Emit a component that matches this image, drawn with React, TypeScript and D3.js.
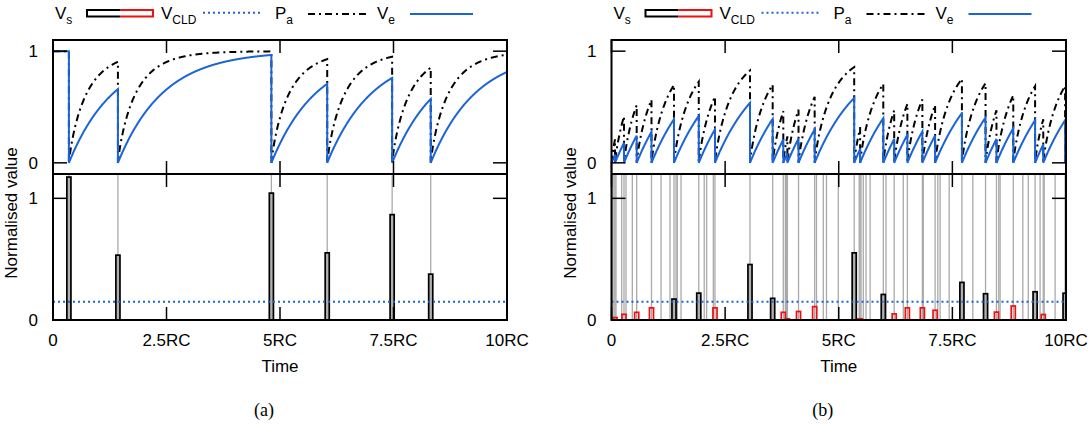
import React from 'react';
import * as d3 from 'd3';

// ---------- shared axis data ----------
const xTickValues = [0, 2.5, 5, 7.5, 10];
const xTickLabels = ['0', '2.5RC', '5RC', '7.5RC', '10RC'];
const yTickValues = [0, 1];
const yTickLabels = ['0', '1'];
const vcldLevel = 0.15;

// ---------- (a) ----------
const aStartCharged = true;
const aDischargeTimes = [0.35, 1.43, 4.81, 6.04, 7.47, 8.32];
const aVsTimes = [0.35, 1.43, 4.81, 6.04, 7.47, 8.32];
const aVsHeights = [1.175, 0.533, 1.043, 0.552, 0.866, 0.377];
const aCldTimes: number[] = [];
const aCldHeights: number[] = [];
const aGrayTimes = [0.35, 1.43, 4.81, 6.04, 7.47, 8.32];

// ---------- (b) ----------
const bStartCharged = false;
const bDischargeTimes = [0.077, 0.275, 0.554, 0.88, 1.375, 1.92, 2.277, 3.047, 3.546, 3.78, 3.87, 4.115, 4.47,
  5.34, 5.47, 5.98, 6.22, 6.51, 6.84, 7.12, 7.71, 8.23, 8.47, 8.84, 9.32, 9.5, 9.98];
const bVsTimes = [1.375, 1.92, 3.047, 3.546, 5.34, 5.98, 7.71, 8.23, 9.32, 9.98];
const bVsHeights = [0.172, 0.221, 0.456, 0.178, 0.552, 0.21, 0.309, 0.216, 0.232, 0.22];
const bCldTimes = [0.077, 0.275, 0.554, 0.88, 2.277, 3.78, 3.87, 4.115, 4.47, 5.47, 6.22, 6.51, 6.84, 7.12, 8.47, 8.84, 9.5];
const bCldHeights = [0.02, 0.047, 0.063, 0.1, 0.1, 0.063, 0.01, 0.07, 0.11, 0.01, 0.05, 0.1, 0.1, 0.08, 0.065, 0.115, 0.045];
const bGrayTimes = [0.026, 0.055, 0.077, 0.099, 0.224, 0.275, 0.319, 0.458, 0.554, 0.88, 1.09, 1.287, 1.375, 1.42, 1.448,
  1.53, 1.92, 2.04, 2.093, 2.24, 2.277, 3.047, 3.546, 3.78, 3.825, 3.85, 3.87, 4.115, 4.47, 4.51, 4.66, 4.73, 4.99,
  5.34, 5.45, 5.47, 5.49, 5.54, 5.6, 5.69, 5.98, 6.04, 6.22, 6.42, 6.51, 6.84, 6.86, 7.12, 7.18, 7.23, 7.43, 7.71,
  7.95, 8.23, 8.47, 8.52, 8.55, 8.84, 9.05, 9.17, 9.32, 9.43, 9.5, 9.52, 9.76, 9.98];

// RC charging model (time in units of RC)
const veCharge = (dt: number) => 1 - Math.exp(-dt);
const paCharge = (dt: number) => 1 - Math.exp(-2.2 * Math.pow(dt, 0.87));

const BLUE = '#1a64d8';
const RED = '#ee1111';
const GRAY = '#aaaaaa';
const FONT = '"Liberation Sans", Arial, sans-serif';

function buildSeries(startCharged: boolean, events: number[], f: (dt: number) => number): [number, number][] {
  const pts: [number, number][] = [];
  const bounds = [0, ...events, 10];
  for (let i = 0; i < bounds.length - 1; i++) {
    const t0 = bounds[i];
    const t1 = bounds[i + 1];
    const flat = i === 0 && startCharged;
    const val = (t: number) => (flat ? 1 : f(t - t0));
    if (i > 0) pts.push([t0, 0]);
    for (let t = t0; t < t1; t += 0.005) pts.push([t, val(t)]);
    pts.push([t1, val(t1)]);
  }
  return pts;
}

const TOP = 40, MID = 174, BOT = 320;

type PanelProps = {
  id: string; x0: number; x1: number; caption: string;
  startCharged: boolean; events: number[]; vsT: number[]; vsH: number[];
  cldT: number[]; cldH: number[]; grayT: number[];
};

function Panel(p: PanelProps) {
  const x = d3.scaleLinear().domain([0, 10]).range([p.x0, p.x1]);
  const yT = d3.scaleLinear().domain([-0.1, 1.1]).range([MID, TOP]);
  const yB = d3.scaleLinear().domain([0, 1.2]).range([BOT, MID]);
  const line = d3.line<[number, number]>().x(d => x(d[0])).y(d => yT(d[1]));
  const ve = buildSeries(p.startCharged, p.events, veCharge);
  const pa = buildSeries(p.startCharged, p.events, paCharge);
  const barW = x(0.09) - x(0);
  const xt = 13, yt = 14;
  const lx = p.x0;
  return (
    <g>
      <defs>
        <clipPath id={`top-${p.id}`}><rect x={p.x0} y={TOP} width={p.x1 - p.x0} height={MID - TOP} /></clipPath>
        <clipPath id={`bot-${p.id}`}><rect x={p.x0} y={MID} width={p.x1 - p.x0} height={BOT - MID} /></clipPath>
      </defs>
      {/* top panel curves */}
      <g clipPath={`url(#top-${p.id})`}>
        <path d={line(pa) || ''} fill="none" stroke="#000" strokeWidth={2} strokeDasharray="7,4,2,4" />
        <path d={line(ve) || ''} fill="none" stroke={BLUE} strokeWidth={2} />
      </g>
      {/* bottom panel */}
      <g clipPath={`url(#bot-${p.id})`}>
        {p.grayT.map((t, i) => (
          <line key={'g' + i} x1={x(t)} x2={x(t)} y1={yB(0)} y2={MID} stroke={GRAY} strokeWidth={1.3} />
        ))}
        {p.vsT.map((t, i) => (
          <rect key={'v' + i} x={x(t) - barW / 2} y={yB(p.vsH[i])} width={barW} height={yB(0) - yB(p.vsH[i])}
            fill="#b0b0b0" stroke="#000" strokeWidth={1.7} />
        ))}
        {p.cldT.map((t, i) => (
          <rect key={'c' + i} x={x(t) - barW / 2} y={yB(p.cldH[i])} width={barW} height={yB(0) - yB(p.cldH[i])}
            fill="none" stroke={RED} strokeWidth={1.7} />
        ))}
        <line x1={p.x0} x2={p.x1} y1={yB(vcldLevel)} y2={yB(vcldLevel)} stroke={BLUE} strokeWidth={2} strokeDasharray="2,3" />
      </g>
      {/* ticks */}
      {xTickValues.map((v, i) => (
        <g key={'xt' + i} stroke="#000" strokeWidth={1.5}>
          <line x1={x(v)} x2={x(v)} y1={TOP} y2={TOP + xt} />
          <line x1={x(v)} x2={x(v)} y1={MID} y2={MID - xt} />
          <line x1={x(v)} x2={x(v)} y1={MID} y2={MID + xt} />
          <line x1={x(v)} x2={x(v)} y1={BOT} y2={BOT - xt} />
        </g>
      ))}
      {yTickValues.map((v, i) => (
        <g key={'yt' + i} stroke="#000" strokeWidth={1.5}>
          <line x1={p.x0} x2={p.x0 + yt} y1={yT(v)} y2={yT(v)} />
          <line x1={p.x1} x2={p.x1 - yt} y1={yT(v)} y2={yT(v)} />
          <line x1={p.x0} x2={p.x0 + yt} y1={yB(v)} y2={yB(v)} />
          <line x1={p.x1} x2={p.x1 - yt} y1={yB(v)} y2={yB(v)} />
        </g>
      ))}
      {/* frame */}
      <rect x={p.x0} y={TOP} width={p.x1 - p.x0} height={BOT - TOP} fill="none" stroke="#000" strokeWidth={2} />
      <line x1={p.x0} x2={p.x1} y1={MID} y2={MID} stroke="#000" strokeWidth={2} />
      {/* tick labels */}
      <g fontFamily={FONT} fontSize={17} fill="#000">
        {xTickValues.map((v, i) => (
          <text key={'xl' + i} x={x(v)} y={346} textAnchor="middle">{xTickLabels[i]}</text>
        ))}
        {yTickValues.map((v, i) => (
          <text key={'yl1' + i} x={p.x0 - 15} y={yT(v) + 6} textAnchor="end">{yTickLabels[i]}</text>
        ))}
        {yTickValues.map((v, i) => (
          <text key={'yl2' + i} x={p.x0 - 15} y={yB(v) + 6} textAnchor="end">{yTickLabels[i]}</text>
        ))}
        <text x={(p.x0 + p.x1) / 2} y={372} textAnchor="middle">Time</text>
        <text x={p.x0 - 36} y={213} textAnchor="middle" transform={`rotate(-90 ${p.x0 - 36} 213)`}>Normalised value</text>
      </g>
      {/* legend */}
      <g fontFamily={FONT} fill="#000">
        <text x={lx + 2} y={19} fontSize={17}>V<tspan fontSize={12} dy={5}>s</tspan></text>
        <path d={`M${lx + 67},10 H${lx + 34} V16.5 H${lx + 67}`} fill="none" stroke="#000" strokeWidth={2} />
        <path d={`M${lx + 67},10 H${lx + 100} V16.5 H${lx + 67}`} fill="none" stroke={RED} strokeWidth={2} />
        <text x={lx + 108} y={19} fontSize={17}>V<tspan fontSize={12} dy={5}>CLD</tspan></text>
        <line x1={lx + 150} x2={lx + 209} y1={12.7} y2={12.7} stroke={BLUE} strokeWidth={2} strokeDasharray="2,3" />
        <text x={lx + 222} y={19} fontSize={17}>P<tspan fontSize={12} dy={5}>a</tspan></text>
        <line x1={lx + 255} x2={lx + 315} y1={14} y2={14} stroke="#000" strokeWidth={2} strokeDasharray="7,4,2,4" />
        <text x={lx + 324} y={19} fontSize={17}>V<tspan fontSize={12} dy={5}>e</tspan></text>
        <line x1={lx + 357} x2={lx + 420} y1={14} y2={14} stroke={BLUE} strokeWidth={2} />
      </g>
      <text x={(p.x0 + p.x1) / 2 - 16} y={416} textAnchor="middle" fontFamily='"Liberation Serif", "DejaVu Serif", serif' fontSize={18}>{p.caption}</text>
    </g>
  );
}

export default function App() {
  return (
    <div style={{ position: 'fixed', left: 0, top: 0, background: '#fff' }}>
      <svg width={1091} height={425} style={{ display: 'block' }}>
        <rect width={1091} height={425} fill="#fff" />
        <Panel id="a" x0={53} x1={507} caption="(a)" startCharged={aStartCharged} events={aDischargeTimes}
          vsT={aVsTimes} vsH={aVsHeights} cldT={aCldTimes} cldH={aCldHeights} grayT={aGrayTimes} />
        <Panel id="b" x0={611.5} x1={1066} caption="(b)" startCharged={bStartCharged} events={bDischargeTimes}
          vsT={bVsTimes} vsH={bVsHeights} cldT={bCldTimes} cldH={bCldHeights} grayT={bGrayTimes} />
      </svg>
    </div>
  );
}
